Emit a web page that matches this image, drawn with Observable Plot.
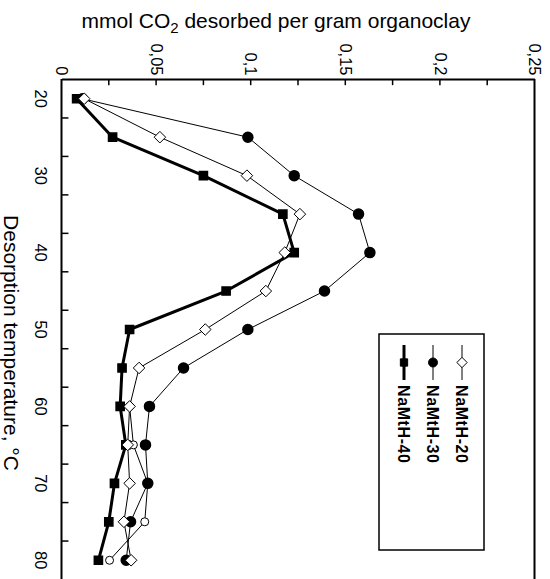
<!DOCTYPE html>
<html>
<head>
<meta charset="utf-8">
<script src="https://cdn.jsdelivr.net/npm/d3@7"></script>
<script src="https://cdn.jsdelivr.net/npm/@observablehq/plot@0.6"></script>
<style>
  html, body { margin: 0; padding: 0; background: white; }
  #wrap { position: relative; width: 550px; height: 579px; overflow: hidden; background: white; }
  #chart { position: absolute; left: 0; top: 0; transform-origin: 0 0; transform: translate(550px, 0) rotate(90deg); }
  #chart svg { max-width: none !important; display: block; }
</style>
</head>
<body>
<div id="wrap"><div id="chart"></div></div>
<script>
// ---- data ----
const temps = [20, 25, 30, 35, 40, 45, 50, 55, 60, 65, 70, 75, 80];
const seriesNames = ["NaMtH-20", "NaMtH-30", "NaMtH-40"];
const namth20 = [0.012, 0.052, 0.098, 0.126, 0.118, 0.108, 0.076, 0.041, 0.036, 0.035, 0.036, 0.033, 0.0368];
const namth30 = [0.011, 0.0985, 0.123, 0.157, 0.163, 0.139, 0.0985, 0.0645, 0.0465, 0.0444, 0.0456, 0.0365, 0.0342];
const namth40 = [0.008, 0.027, 0.075, 0.117, 0.123, 0.087, 0.036, 0.032, 0.031, 0.034, 0.028, 0.025, 0.0195];
// unlabeled open-circle trace visible at the end of the curves
const extraTemps = [60, 65, 70, 75, 80];
const extraVals = [0.036, 0.038, 0.0456, 0.044, 0.0254];

const mmolTickValues = [0, 0.05, 0.1, 0.15, 0.2, 0.25];
const mmolTickLabels = ["0", "0,05", "0,1", "0,15", "0,2", "0,25"];
const mmolMinorTicks = [0.025, 0.05, 0.075, 0.1, 0.125, 0.15, 0.175, 0.2, 0.225];
const tempTickLabels = [20, 30, 40, 50, 60, 70, 80];
const tempTickMarks = [22.5, 27.5, 32.5, 37.5, 42.5, 47.5, 52.5, 57.5, 62.5, 67.5, 72.5, 77.5];
const tempDomain = [17.5, 82.5];
const mmolDomain = [0, 0.25];

// ---- build tables ----
const valuesBySeries = [namth20, namth30, namth40];
const rows = seriesNames.flatMap((s, i) => temps.map((t, j) => ({series: s, temp: t, value: valuesBySeries[i][j]})));
const extra = extraTemps.map((t, j) => ({temp: t, value: extraVals[j]}));
const of = s => rows.filter(r => r.series === s);
const yTicks = mmolTickValues.map((v, i) => ({v, label: mmolTickLabels[i]}));

const styles = {
  "NaMtH-20": {symbol: "diamond2", r: 5.2, fill: "white", lineWidth: 1},
  "NaMtH-30": {symbol: "circle", r: 5, fill: "black", lineWidth: 1},
  "NaMtH-40": {symbol: "square", r: 4.6, fill: "black", lineWidth: 3}
};

const W = 579, H = 550;
const chart = Plot.plot({
  width: W,
  height: H,
  marginLeft: 79,
  marginRight: 0,
  marginTop: 15,
  marginBottom: 62,
  x: {domain: tempDomain, axis: null},
  y: {domain: mmolDomain, axis: null},
  style: {fontFamily: "'Liberation Sans', Arial, sans-serif", color: "black", background: "white", overflow: "visible"},
  marks: [
    // frame
    Plot.ruleY(mmolDomain, {stroke: "black", strokeWidth: 2}),
    Plot.ruleX([tempDomain[0]], {stroke: "black", strokeWidth: 2}),
    // inward tick marks
    Plot.ruleY(mmolMinorTicks, {y: d => d, x1: tempDomain[0], x2: tempDomain[0] + 0.8, stroke: "black", strokeWidth: 1.5}),
    Plot.ruleX(tempTickMarks, {x: d => d, y1: 0, y2: 0.0034, stroke: "black", strokeWidth: 1.5}),
    // tick labels
    Plot.text(yTicks, {y: "v", text: "label", frameAnchor: "left", textAnchor: "end", dx: -4, fontSize: 16.5}),
    Plot.text(tempTickLabels, {x: d => d, text: d => String(d), frameAnchor: "bottom", lineAnchor: "top", dy: 15, fontSize: 16.5}),
    // lines
    Plot.line(extra, {x: "temp", y: "value", stroke: "black", strokeWidth: 1}),
    Plot.line(of("NaMtH-20"), {x: "temp", y: "value", stroke: "black", strokeWidth: styles["NaMtH-20"].lineWidth}),
    Plot.line(of("NaMtH-30"), {x: "temp", y: "value", stroke: "black", strokeWidth: styles["NaMtH-30"].lineWidth}),
    Plot.line(of("NaMtH-40"), {x: "temp", y: "value", stroke: "black", strokeWidth: styles["NaMtH-40"].lineWidth}),
    // markers
    Plot.dot(extra, {x: "temp", y: "value", symbol: "circle", r: 4, fill: "white", stroke: "black", strokeWidth: 1}),
    Plot.dot(of("NaMtH-40"), {x: "temp", y: "value", symbol: "square", r: styles["NaMtH-40"].r, fill: "black", stroke: "black"}),
    Plot.dot(of("NaMtH-30"), {x: "temp", y: "value", symbol: "circle", r: styles["NaMtH-30"].r, fill: "black", stroke: "black"}),
    Plot.dot(of("NaMtH-20"), {x: "temp", y: "value", symbol: "diamond2", r: styles["NaMtH-20"].r, fill: "white", stroke: "black", strokeWidth: 1})
  ]
});
chart.style.maxWidth = "none";
document.getElementById("chart").appendChild(chart);

// ---- titles & legend appended to the same SVG ----
const svg = d3.select(chart);
const yt = svg.append("text")
  .attr("transform", "translate(28,274) rotate(-90)")
  .attr("text-anchor", "middle")
  .attr("font-size", 21)
  .attr("font-family", "'Liberation Sans', Arial, sans-serif")
  .attr("fill", "black");
yt.append("tspan").text("mmol CO");
yt.append("tspan").attr("font-size", 15).attr("dy", 5).text("2");
yt.append("tspan").attr("dy", -5).text(" desorbed per gram organoclay");

svg.append("text")
  .attr("x", 343).attr("y", 546)
  .attr("text-anchor", "middle")
  .attr("font-size", 21)
  .attr("font-family", "'Liberation Sans', Arial, sans-serif")
  .attr("fill", "black")
  .text("Desorption temperature, °C");

const lg = svg.append("g");
lg.append("rect").attr("x", 334).attr("y", 66).attr("width", 216).attr("height", 105)
  .attr("fill", "white").attr("stroke", "black").attr("stroke-width", 1.5);
seriesNames.forEach((s, i) => {
  const cy = 88 + i * 29;
  const st = styles[s];
  lg.append("line").attr("x1", 345).attr("x2", 380).attr("y1", cy).attr("y2", cy)
    .attr("stroke", "black").attr("stroke-width", st.lineWidth);
  const sym = st.symbol === "diamond2" ? d3.symbolDiamond2 : st.symbol === "square" ? d3.symbolSquare : d3.symbolCircle;
  lg.append("path").attr("transform", `translate(362.5,${cy})`)
    .attr("d", d3.symbol(sym, st.r * st.r * Math.PI * 0.8)())
    .attr("fill", st.fill).attr("stroke", "black").attr("stroke-width", 1);
  lg.append("text").attr("x", 385).attr("y", cy).attr("dy", "0.36em")
    .attr("text-anchor", "start")
    .attr("font-size", 16).attr("font-weight", "bold").attr("letter-spacing", 0.6)
    .attr("font-family", "'Liberation Sans', Arial, sans-serif")
    .attr("fill", "black").text(s);
});
</script>
</body>
</html>
